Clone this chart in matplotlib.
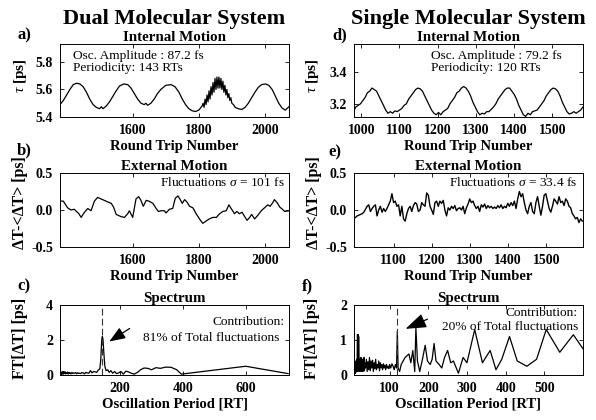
import numpy as np
import matplotlib
matplotlib.use('Agg')
import matplotlib.pyplot as plt

plt.rcParams['font.family'] = ['Liberation Serif', 'DejaVu Serif']
plt.rcParams['font.weight'] = 'bold'
plt.rcParams['axes.labelweight'] = 'bold'
plt.rcParams['mathtext.fontset'] = 'custom'
plt.rcParams['mathtext.rm'] = 'Liberation Serif'
plt.rcParams['mathtext.it'] = 'Liberation Serif:style=italic:weight=normal'
plt.rcParams['mathtext.bf'] = 'Liberation Serif:bold'
plt.rcParams['axes.unicode_minus'] = False

# ---- data ----
# a) dual system, internal motion (round trip, tau [ps])
dual_tau = [(1380, 5.49), (1390, 5.52), (1400, 5.56), (1410, 5.60), (1420, 5.635), (1430, 5.645),
            (1440, 5.64), (1450, 5.62), (1460, 5.58), (1470, 5.53), (1480, 5.49), (1490, 5.47),
            (1500, 5.46), (1505, 5.475), (1510, 5.46), (1520, 5.48), (1530, 5.51), (1540, 5.55),
            (1550, 5.59), (1560, 5.625), (1573, 5.64), (1585, 5.635), (1595, 5.61), (1605, 5.57),
            (1615, 5.53), (1625, 5.50), (1635, 5.49), (1640, 5.50), (1645, 5.485), (1655, 5.50),
            (1665, 5.53), (1675, 5.57), (1685, 5.60), (1700, 5.63), (1716, 5.635), (1728, 5.62),
            (1740, 5.58), (1750, 5.53), (1760, 5.49), (1770, 5.46), (1780, 5.445), (1790, 5.44),
            (1800, 5.45), (1810, 5.48), (1813, 5.50), (1816, 5.47), (1819, 5.53), (1822, 5.49),
            (1825, 5.56), (1828, 5.51), (1831, 5.59), (1834, 5.53), (1837, 5.62), (1840, 5.56),
            (1843, 5.65), (1846, 5.58), (1849, 5.68), (1852, 5.60), (1855, 5.69), (1858, 5.61),
            (1861, 5.69), (1864, 5.61), (1867, 5.68), (1870, 5.60), (1873, 5.66), (1876, 5.58),
            (1879, 5.63), (1882, 5.56), (1885, 5.60), (1888, 5.54), (1891, 5.57), (1894, 5.52),
            (1897, 5.54), (1900, 5.50), (1905, 5.49), (1910, 5.47), (1920, 5.46), (1930, 5.455),
            (1940, 5.47), (1950, 5.50), (1960, 5.54), (1970, 5.58), (1980, 5.615), (1990, 5.635),
            (2002, 5.64), (2012, 5.63), (2022, 5.60), (2032, 5.55), (2042, 5.50), (2052, 5.465),
            (2062, 5.45), (2073, 5.475)]

# d) single system, internal motion
single_tau = [(980, 3.155), (986, 3.18), (992, 3.19), (998, 3.20), (1004, 3.22), (1010, 3.24),
              (1016, 3.27), (1022, 3.28), (1028, 3.30), (1034, 3.29), (1040, 3.28), (1046, 3.25),
              (1052, 3.22), (1058, 3.19), (1064, 3.16), (1070, 3.14), (1076, 3.15), (1082, 3.14),
              (1088, 3.155), (1094, 3.15), (1100, 3.16), (1106, 3.17), (1112, 3.19), (1118, 3.20),
              (1124, 3.23), (1130, 3.25), (1136, 3.27), (1142, 3.29), (1148, 3.30), (1154, 3.295),
              (1160, 3.28), (1166, 3.25), (1172, 3.22), (1178, 3.19), (1184, 3.16), (1190, 3.14),
              (1196, 3.13), (1202, 3.145), (1208, 3.13), (1214, 3.15), (1220, 3.16), (1226, 3.17),
              (1232, 3.20), (1238, 3.22), (1244, 3.24), (1250, 3.27), (1256, 3.28), (1262, 3.30),
              (1268, 3.31), (1274, 3.30), (1280, 3.28), (1286, 3.25), (1292, 3.21), (1298, 3.18),
              (1304, 3.15), (1310, 3.13), (1316, 3.14), (1322, 3.135), (1328, 3.15), (1334, 3.15),
              (1340, 3.165), (1346, 3.18), (1352, 3.20), (1358, 3.23), (1364, 3.25), (1370, 3.27),
              (1376, 3.29), (1382, 3.30), (1388, 3.30), (1394, 3.28), (1400, 3.26), (1406, 3.23),
              (1412, 3.19), (1418, 3.16), (1424, 3.13), (1430, 3.12), (1436, 3.14), (1442, 3.13),
              (1448, 3.15), (1454, 3.155), (1460, 3.16), (1466, 3.18), (1472, 3.20), (1478, 3.22),
              (1484, 3.25), (1490, 3.27), (1496, 3.29), (1502, 3.30), (1508, 3.295), (1514, 3.28),
              (1520, 3.25), (1526, 3.21), (1532, 3.18), (1538, 3.15), (1544, 3.135), (1550, 3.14),
              (1556, 3.15), (1562, 3.14), (1568, 3.15), (1574, 3.16), (1580, 3.18)]

# b) dual system, external motion (round trip, dT-<dT> [ps])
dual_dt = [(1380, 0.12), (1390, 0.12), (1403, 0.03), (1413, 0.0), (1423, 0.01), (1437, -0.05),
           (1444, -0.10), (1454, -0.03), (1464, 0.02), (1474, -0.01), (1484, 0.12), (1494, 0.17),
           (1509, 0.14), (1524, 0.11), (1535, 0.09), (1542, 0.04), (1550, -0.06), (1565, -0.09),
           (1575, -0.10), (1585, -0.05), (1590, -0.01), (1600, -0.10), (1610, 0.15), (1618, 0.18),
           (1625, 0.13), (1632, 0.05), (1641, 0.13), (1649, 0.12), (1661, 0.09), (1671, 0.02),
           (1678, -0.02), (1686, -0.01), (1696, -0.01), (1701, -0.04), (1711, 0.01), (1721, 0.02),
           (1729, 0.16), (1737, 0.19), (1744, 0.14), (1750, 0.09), (1757, 0.14), (1764, 0.11),
           (1772, 0.05), (1782, 0.03), (1792, -0.05), (1802, -0.12), (1812, -0.18), (1822, -0.15),
           (1832, -0.12), (1843, -0.10), (1853, -0.10), (1863, -0.05), (1873, -0.02), (1883, -0.01),
           (1891, 0.07), (1898, 0.02), (1908, -0.05), (1915, -0.02), (1923, -0.05), (1931, -0.03),
           (1939, -0.09), (1946, -0.14), (1954, -0.10), (1960, -0.06), (1969, -0.12), (1979, -0.07),
           (1989, -0.01), (1999, 0.03), (2009, 0.07), (2016, 0.05), (2024, 0.10), (2029, 0.14),
           (2037, 0.10), (2045, 0.04), (2053, 0.01), (2060, -0.02), (2073, -0.01)]

# e) single system, external motion, sampled evenly from 1000 to 1594
single_dt = [-0.10, -0.08, -0.07, -0.06, -0.05, -0.03, 0.01, 0.05, 0.07, -0.02, 0.02, 0.05,
             0.07, -0.08, 0.0, 0.05, -0.03, 0.02, -0.02, 0.02, 0.07, 0.12, 0.22, 0.10,
             0.12, 0.05, 0.07, -0.08, 0.05, -0.12, -0.15, -0.05, 0.02, 0.05, -0.02, 0.06,
             0.10, 0.08, -0.02, 0.0, 0.10, 0.07, 0.05, 0.23, 0.20, 0.05, 0.0, -0.06,
             0.10, 0.12, 0.05, 0.12, 0.09, 0.13, 0.0, -0.08, 0.03, 0.0, 0.05, 0.02,
             0.06, -0.01, 0.02, 0.03, 0.0, 0.05, -0.05, 0.03, 0.08, 0.15, 0.10, 0.12,
             0.06, 0.02, 0.05, -0.02, 0.07, 0.04, 0.08, 0.02, 0.06, 0.03, 0.05, 0.02,
             0.04, 0.02, 0.06, 0.03, 0.07, 0.02, 0.05, 0.03, 0.09, 0.05, 0.10, 0.06,
             0.12, 0.02, 0.15, 0.25, 0.18, 0.22, 0.10, 0.0, -0.05, 0.05, 0.10, -0.02,
             -0.05, 0.10, 0.18, 0.05, -0.07, 0.05, 0.20, 0.22, 0.12, 0.02, -0.03, 0.05,
             0.15, 0.12, 0.08, 0.18, 0.10, 0.12, 0.06, 0.15, 0.12, 0.05, 0.03, -0.05,
             -0.08, -0.12, -0.10, -0.17, -0.12, -0.15]
single_dt_start, single_dt_end = 1000, 1594

# c) dual spectrum (period [RT], FT amplitude [ps])
dual_ft = [(11, 0.05), (12.5, 0.15), (14, 0.04), (15, 0.18), (16.5, 0.08), (18, 0.20),
           (19.5, 0.05), (21, 0.16), (22.5, 0.10), (24, 0.19), (26, 0.06), (28, 0.14),
           (30, 0.09), (32, 0.17), (34, 0.05), (36, 0.15), (38, 0.10), (40, 0.13),
           (43, 0.06), (46, 0.15), (49, 0.08), (52, 0.12), (55, 0.10), (58, 0.14),
           (61, 0.07), (64, 0.13), (67, 0.09), (70, 0.11), (74, 0.08), (78, 0.14),
           (82, 0.12), (86, 0.06), (90, 0.15), (95, 0.12), (100, 0.10), (105, 0.25),
           (110, 0.12), (115, 0.20), (120, 0.18), (125, 0.15), (130, 0.28), (135, 0.35),
           (138, 0.90), (141, 2.0), (143, 2.2), (145, 2.05), (148, 1.2), (151, 0.5),
           (155, 0.25), (160, 0.30), (165, 0.15), (170, 0.25), (176, 0.10), (182, 0.20),
           (188, 0.08), (195, 0.12), (202, 0.20), (210, 0.05), (218, 0.22), (226, 0.18),
           (235, 0.10), (245, 0.05), (255, 0.15), (265, 0.30), (276, 0.40), (288, 0.38),
           (300, 0.30), (314, 0.42), (328, 0.38), (345, 0.45), (362, 0.44), (380, 0.30),
           (395, 0.05), (600, 0.50), (735, 0.08)]

# f) single spectrum
single_ft = [(8, 0.05), (9, 0.30), (10, 0.10), (11, 0.40), (12, 0.05), (13, 0.35), (14, 0.15),
             (15, 0.45), (16, 0.10), (17, 1.15), (17.5, 0.20), (18, 1.15), (18.5, 0.10),
             (19, 1.15), (19.5, 0.30), (20, 1.10), (21, 0.20), (22, 0.45), (23, 0.10),
             (24, 0.40), (25, 0.15), (26, 0.50), (27, 0.10), (28, 0.35), (29, 0.20),
             (30, 0.45), (31, 0.10), (32, 0.40), (33, 0.15), (34, 0.50), (35, 0.12),
             (36, 0.35), (38, 0.20), (40, 0.45), (42, 0.10), (44, 0.38), (46, 0.15),
             (48, 0.50), (50, 0.12), (52, 0.40), (54, 0.20), (56, 0.42), (58, 0.10),
             (60, 0.35), (62, 0.18), (64, 0.45), (66, 0.15), (68, 0.30), (70, 0.20),
             (72, 0.40), (74, 0.12), (76, 0.35), (78, 0.20), (80, 0.30), (82, 0.15),
             (84, 0.32), (86, 0.20), (88, 0.28), (90, 0.15), (92, 0.30), (94, 0.20),
             (96, 0.25), (98, 0.18), (100, 0.30), (103, 0.20), (106, 0.32), (109, 0.25),
             (112, 0.15), (115, 0.30), (118, 0.20), (120, 1.25), (122, 0.20), (126, 0.10),
             (130, 0.30), (140, 0.50), (150, 0.60), (155, 0.35), (160, 0.70), (165, 0.10),
             (168, 1.35), (172, 0.40), (178, 0.10), (185, 0.45), (192, 0.85), (198, 0.40),
             (205, 0.30), (210, 0.45), (215, 0.90), (220, 0.40), (228, 0.30), (235, 0.20),
             (242, 0.50), (250, 0.70), (258, 0.35), (265, 0.40), (278, 0.05), (290, 0.50),
             (300, 0.35), (320, 1.30), (340, 0.35), (360, 0.70), (375, 0.15), (390, 0.45),
             (410, 1.10), (430, 0.40), (455, 0.25), (480, 0.45), (505, 1.30), (540, 0.65),
             (575, 1.15), (600, 0.75)]

dual_period, single_period = 143, 120

# ---- layout (pixel boxes: left, top, right, bottom) ----
W, H = 596.0, 420.0
fig = plt.figure(figsize=(W / 100, H / 100), dpi=100)


def box(l, t, r, b):
    return [l / W, 1 - b / H, (r - l) / W, (b - t) / H]


def style(ax):
    ax.tick_params(direction='in', top=True, right=True, length=3, width=0.6, labelsize=10)
    ax.tick_params(axis='x', pad=5)
    ax.tick_params(axis='y', pad=5)
    for s in ax.spines.values():
        s.set_linewidth(0.7)


LC, RC = (60, 289), (354, 583)
rows = [(44, 117), (173, 247), (305, 375)]
axs = {}
for key, (col, row) in zip('abcdef', [(LC, rows[0]), (LC, rows[1]), (LC, rows[2]),
                                        (RC, rows[0]), (RC, rows[1]), (RC, rows[2])]):
    axs[key] = fig.add_axes(box(col[0], row[0], col[1], row[1]))
    style(axs[key])

tfs, lfs, afs = 10.8, 10.5, 9.6
# y-label placement (axes fraction) and size per panel
ylpos = {'a': (-0.135, 0.56, 11), 'b': (-0.14, 0.6, 11.5), 'c': (-0.14, 0.52, 11.5),
         'd': (-0.145, 0.56, 11), 'e': (-0.14, 0.6, 11.5), 'f': (-0.15, 0.52, 11.5)}


def labels(ax, key, title, xlabel, ylabel):
    ax.set_title(title, fontsize=tfs, fontweight='bold', pad=2)
    ax.set_xlabel(xlabel, fontsize=lfs, labelpad=2)
    lx, ly, fs = ylpos[key]
    ax.set_ylabel(ylabel, fontsize=fs)
    ax.yaxis.set_label_coords(lx, ly)


def note(ax, x, y, s, ha='left'):
    ax.text(x, y, s, transform=ax.transAxes, fontsize=afs, fontweight='normal',
            va='center', ha=ha)


# a)
ax = axs['a']
x, y = zip(*dual_tau)
ax.plot(x, y, 'k-', lw=0.9)
ax.set_xlim(1380, 2073)
ax.set_ylim(5.4, 5.93)
ax.set_xticks([1600, 1800, 2000])
ax.set_yticks([5.4, 5.6, 5.8])
labels(ax, 'a', 'Internal Motion', 'Round Trip Number', r'$\tau$ [ps]')
note(ax, 0.057, 0.835, 'Osc. Amplitude : 87.2 fs')
note(ax, 0.057, 0.67, 'Periodicity: %d RTs' % dual_period)

# d)
ax = axs['d']
x, y = zip(*single_tau)
ax.plot(x, y, 'k-', lw=0.9)
ax.set_xlim(981, 1580)
ax.set_ylim(3.116, 3.58)
ax.set_xticks([1000, 1100, 1200, 1300, 1400, 1500])
ax.set_yticks([3.2, 3.4])
labels(ax, 'd', 'Internal Motion', 'Round Trip Number', r'$\tau$ [ps]')
note(ax, 0.336, 0.835, 'Osc. Amplitude : 79.2 fs')
note(ax, 0.336, 0.67, 'Periodicity: %d RTs' % single_period)

# b)
ax = axs['b']
x, y = zip(*dual_dt)
ax.plot(x, y, 'k-', lw=0.9)
ax.set_xlim(1380, 2073)
ax.set_ylim(-0.5, 0.5)
ax.set_xticks([1600, 1800, 2000])
ax.set_yticks([-0.5, 0, 0.5])
labels(ax, 'b', 'External Motion', 'Round Trip Number', 'ΔT-<ΔT> [ps]')
note(ax, 0.983, 0.878, r'Fluctuations $\sigma$ = 101 fs', ha='right')

# e)
ax = axs['e']
x = np.linspace(single_dt_start, single_dt_end, len(single_dt))
ax.plot(x, single_dt, 'k-', lw=1.0)
ax.set_xlim(996, 1596)
ax.set_ylim(-0.5, 0.5)
ax.set_xticks([1100, 1200, 1300, 1400, 1500])
ax.set_yticks([-0.5, 0, 0.5])
labels(ax, 'e', 'External Motion', 'Round Trip Number', 'ΔT-<ΔT> [ps]')
note(ax, 0.974, 0.878, r'Fluctuations $\sigma$ = 33.4 fs', ha='right')

# c)
ax = axs['c']
x, y = zip(*dual_ft)
ax.plot(x, y, 'k-', lw=0.9)
ax.axvline(dual_period, color='#333333', lw=0.8, dashes=(6, 3))
ax.set_xlim(8, 738)
ax.set_ylim(0, 4)
ax.set_xticks([200, 400, 600])
ax.set_yticks([0, 2, 4])
labels(ax, 'c', 'Spectrum', 'Oscillation Period [RT]', 'FT[ΔT] [ps]')
note(ax, 0.983, 0.757, 'Contribution:', ha='right')
note(ax, 0.96, 0.53, '81% of Total fluctuations', ha='right')
ax.annotate('', xy=(0.205, 0.457), xycoords='axes fraction', xytext=(0.314, 0.686),
            arrowprops=dict(arrowstyle='-|>,head_length=0.65,head_width=0.25',
                            color='k', lw=0.9, mutation_scale=15))

# f)
ax = axs['f']
x, y = zip(*single_ft)
ax.plot(x, y, 'k-', lw=0.9)
ax.axvline(single_period, color='#333333', lw=0.8, dashes=(6, 3))
ax.set_xlim(8, 600)
ax.set_ylim(0, 2)
ax.set_xticks([100, 200, 300, 400, 500])
ax.set_yticks([0, 1, 2])
labels(ax, 'f', 'Spectrum', 'Oscillation Period [RT]', 'FT[ΔT] [ps]')
note(ax, 0.978, 0.89, 'Contribution:', ha='right')
note(ax, 0.978, 0.68, '20% of Total fluctuations', ha='right')
ax.annotate('', xy=(0.214, 0.643), xycoords='axes fraction', xytext=(0.332, 0.814),
            arrowprops=dict(arrowstyle='-|>,head_length=0.85,head_width=0.3',
                            color='k', lw=0.9, mutation_scale=15))

# column headers and panel letters
fig.text(174.5 / W, 1 - 24 / H, 'Dual Molecular System', ha='center', va='baseline', fontsize=16)
fig.text(468.5 / W, 1 - 24 / H, 'Single Molecular System', ha='center', va='baseline', fontsize=16)
for lab, (px, py) in zip(['a)', 'b)', 'c)', 'd)', 'e)', 'f)'],
                         [(17, 35), (17, 150), (17, 286), (332, 35), (328, 152), (302, 286)]):
    fig.text(px / W, 1 - py / H, lab, ha='left', va='center', fontsize=12)

fig.savefig('out.png', dpi=100)
